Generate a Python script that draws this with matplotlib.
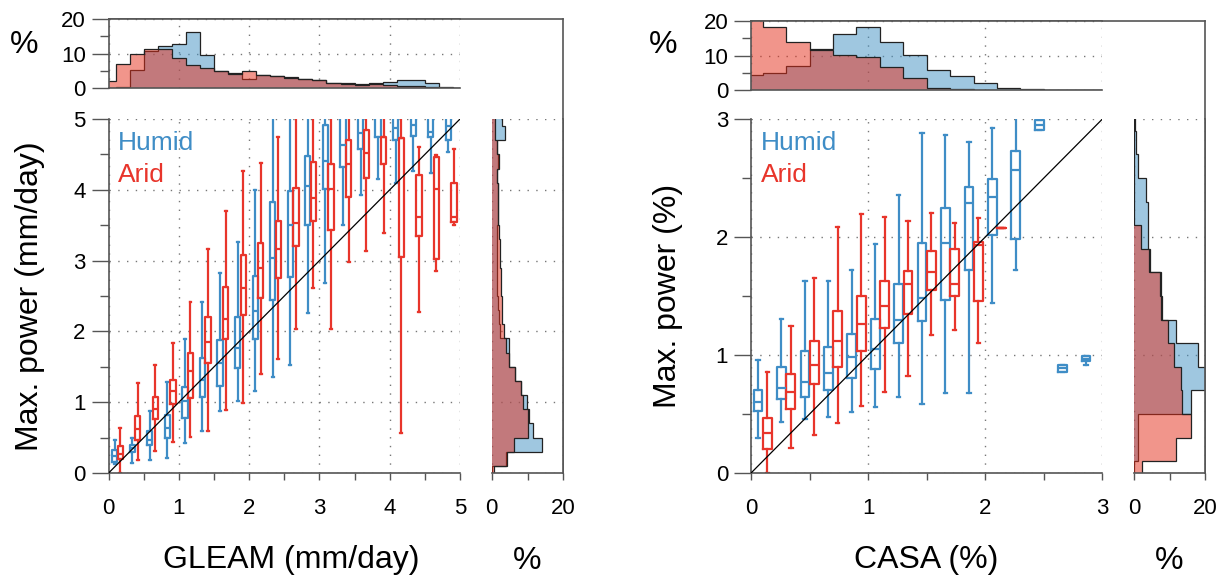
import matplotlib
matplotlib.use("Agg")
import matplotlib.pyplot as plt
import numpy as np

plt.rcParams['font.family'] = ['Liberation Sans', 'DejaVu Sans']

# ---- box statistics: (whislo, q1, med, q3, whishi) per bin ----
gleam_centers = [0.125, 0.375, 0.625, 0.875, 1.125, 1.375, 1.625, 1.875, 2.125, 2.375,
                 2.625, 2.875, 3.125, 3.375, 3.625, 3.875, 4.125, 4.375, 4.625, 4.875]
gleam_humid = [
    (0.12, 0.15, 0.24, 0.33, 0.47), (0.14, 0.30, 0.35, 0.40, 0.49),
    (0.19, 0.39, 0.47, 0.59, 0.87), (0.21, 0.50, 0.64, 0.82, 1.28),
    (0.43, 0.77, 1.01, 1.22, 1.89), (0.59, 1.07, 1.31, 1.63, 2.41),
    (0.87, 1.23, 1.55, 1.88, 2.83), (1.02, 1.49, 1.76, 2.20, 3.26),
    (1.16, 1.89, 2.29, 2.78, 4.00), (1.35, 2.45, 3.04, 3.83, 5.5),
    (1.53, 2.77, 3.50, 3.99, 5.5), (2.26, 3.50, 4.05, 4.48, 5.5),
    (2.68, 4.01, 4.41, 4.92, 5.5), (3.50, 4.32, 4.64, 5.1, 5.5),
    (3.93, 4.57, 4.80, 5.1, 5.5), (4.15, 4.75, 5.05, 5.4, 5.5),
    (4.09, 4.71, 4.87, 5.2, 5.5), (4.27, 4.76, 4.92, 5.2, 5.5),
    (4.24, 4.75, 4.82, 5.2, 5.5), (4.53, 4.71, 4.90, 5.2, 5.5),
]
gleam_arid = [
    (0.00, 0.20, 0.27, 0.38, 0.63), (0.18, 0.47, 0.62, 0.80, 1.27),
    (0.31, 0.76, 0.90, 1.08, 1.53), (0.44, 0.97, 1.16, 1.32, 1.83),
    (0.51, 1.06, 1.44, 1.70, 2.41), (0.59, 1.55, 1.85, 2.20, 3.17),
    (0.89, 1.89, 2.17, 2.63, 3.70), (0.99, 2.23, 2.62, 3.08, 4.26),
    (1.40, 2.47, 2.89, 3.25, 4.38), (1.61, 2.75, 3.16, 3.56, 4.74),
    (2.04, 3.20, 3.53, 4.03, 5.5), (2.61, 3.56, 3.89, 4.39, 5.5),
    (2.03, 3.43, 4.01, 4.36, 5.5), (2.98, 3.90, 4.37, 4.70, 5.5),
    (3.14, 4.16, 4.52, 4.85, 5.5), (3.39, 4.37, 4.75, 4.75, 5.5),
    (0.56, 3.05, 4.73, 4.73, 5.5), (2.28, 3.35, 3.62, 4.21, 4.61),
    (2.86, 3.02, 4.01, 4.46, 4.49), (3.50, 3.55, 3.61, 4.09, 4.57),
]

casa_centers = [0.1, 0.3, 0.5, 0.7, 0.9, 1.1, 1.3, 1.5, 1.7, 1.9, 2.1, 2.3, 2.5, 2.7, 2.9]
casa_humid = [
    (0.30, 0.525, 0.605, 0.704, 0.959), (0.431, 0.624, 0.718, 0.90, 1.306),
    (0.454, 0.647, 0.772, 1.036, 1.624), (0.477, 0.704, 0.846, 1.07, 1.624),
    (0.52, 0.809, 0.985, 1.178, 1.717), (0.559, 0.88, 1.05, 1.306, 1.939),
    (0.644, 1.099, 1.297, 1.604, 2.356), (0.582, 1.291, 1.482, 1.953, 2.882),
    (0.681, 1.462, 1.953, 2.243, 2.862), (0.681, 1.717, 2.285, 2.428, 2.802),
    (1.442, 2.015, 2.342, 2.493, 2.924), (1.723, 1.979, 2.564, 2.731, 3.05),
    (2.904, 2.904, 2.95, 2.995, 2.995), (0.857, 0.857, 0.887, 0.917, 0.917),
    (0.917, 0.945, 0.966, 0.988, 0.988),
]
casa_arid = [
    (0.0, 0.204, 0.34, 0.468, 0.852), (0.213, 0.545, 0.687, 0.835, 1.249),
    (0.326, 0.752, 0.917, 1.121, 1.652), (0.426, 0.90, 1.121, 1.371, 2.081),
    (0.567, 1.031, 1.263, 1.504, 2.192), (0.69, 1.227, 1.419, 1.624, 2.172),
    (0.823, 1.348, 1.598, 1.712, 2.138), (1.17, 1.553, 1.704, 1.882, 2.2),
    (1.215, 1.499, 1.604, 1.902, 2.121), (1.099, 1.456, 1.936, 1.959, 2.163),
    (2.078, 2.078, 2.078, 2.078, 2.078), None, None, None, None,
]

# ---- marginal histograms (% per 0.2 bin, bins centred on 0, 0.2, ...) ----
gleam_top_humid = [0, 0.4, 5.2, 10.8, 12.3, 12.8, 16.1, 9.5, 4.9, 4.4, 2.7, 3.9, 3.5,
                   3.2, 2.7, 2.3, 1.5, 1.35, 1.2, 1.35, 1.8, 2.2, 2.3, 1.35, 0, 0]
gleam_top_arid = [2.1, 7.1, 10.0, 11.2, 11.2, 8.7, 6.8, 5.8, 4.8, 4.1, 5.0, 3.7, 3.4,
                  3.0, 2.6, 2.3, 1.35, 1.2, 1.0, 1.1, 1.0, 0.6, 0.5, 0.4, 0.2, 0]
gleam_side_humid = [0, 4.0, 14.0, 11.4, 10.5, 9.8, 8.2, 6.5, 4.7, 4.8, 2.4, 2.0, 1.8,
                    1.6, 1.5, 1.6, 1.5, 1.4, 1.8, 1.7, 1.8, 1.4, 1.7, 1.5, 3.6, 3.0]
gleam_side_arid = [0.75, 4.2, 6.3, 10.0, 10.0, 8.8, 8.2, 6.5, 4.7, 3.9, 3.3, 3.0, 2.9,
                   2.7, 2.5, 2.4, 2.3, 2.1, 1.8, 1.7, 1.8, 1.6, 2.0, 1.6, 1.0, 1.0]
casa_top_humid = [4.3, 4.8, 7.1, 11.9, 16.2, 18.4, 13.9, 10.1, 5.8, 4.1, 2.1, 0.5, 0.2, 0, 0, 0]
casa_top_arid = [21, 18.4, 14.0, 11.6, 10.1, 9.5, 6.8, 3.4, 0.5, 0.2, 0, 0, 0, 0, 0, 0]
casa_side_humid = [0, 1.0, 1.2, 16.0, 20.0, 18.1, 11.7, 7.9, 7.5, 4.5, 3.9, 4.0, 3.3, 1.0, 0.5, 0.3]
casa_side_arid = [2.2, 11.7, 16.0, 13.6, 13.1, 11.3, 9.7, 7.7, 7.3, 4.3, 1.9, 0, 0, 0, 0, 0]

humid_col = '#3f8dc6'
arid_col = '#e8352b'
humid_fill = '#4191c3'
arid_fill = '#e52d19'
spine_col = '#555555'
grid_kw = dict(color='#777777', linestyle=(0, (1, 5.3)), linewidth=1.0)


def style_ticks(ax):
    ax.tick_params(axis='both', which='both', direction='out', colors=spine_col,
                   labelcolor='black', labelsize=16, width=1.0)
    ax.tick_params(axis='x', which='both', length=5, pad=13)
    ax.tick_params(axis='y', which='major', length=12, pad=4.5)
    ax.tick_params(axis='y', which='minor', length=6.5)
    for s in ax.spines.values():
        s.set_color(spine_col)
        s.set_linewidth(1.2)


def draw_boxes(ax, centers, stats, shift, color):
    bx, pos = [], []
    for c, s in zip(centers, stats):
        if s is None:
            continue
        lo, q1, med, q3, hi = s
        bx.append(dict(whislo=lo, q1=q1, med=med, q3=q3, whishi=hi, fliers=[]))
        pos.append(c + shift)
    kw = dict(color=color, linewidth=1.6)
    ax.bxp(bx, positions=pos, widths=0.075, capwidths=0.028, showfliers=False,
           boxprops=kw, medianprops=kw, whiskerprops=kw, capprops=kw,
           manage_ticks=False)


def draw_hist(ax, edges, humid, arid, orientation):
    for vals, col in ((humid, humid_fill), (arid, arid_fill)):
        ax.stairs(vals, edges, fill=True, color=col, alpha=0.5, linewidth=0,
                  orientation=orientation)
        ax.stairs(vals, edges, color='#222222', linewidth=0.9, orientation=orientation)


def panel(x0, top_y0, top_y1, right_x0, right_x1, vmax, centers, humid, arid,
          top_h, top_a, side_h, side_a, xlabel, ylabel, ylabel_x, xlabel_x, pct_x):
    main_w = 0.2866
    bottom, height = 0.1845, 0.6103
    ax = fig.add_axes([x0, bottom, main_w, height])
    axt = fig.add_axes([x0, top_y0, main_w, top_y1 - top_y0])
    axr = fig.add_axes([right_x0, bottom, right_x1 - right_x0, height])
    frame = fig.add_axes([x0, bottom, right_x1 - x0, top_y1 - bottom], zorder=-5)
    frame.set_facecolor('none')
    frame.set_xticks([])
    frame.set_yticks([])
    for side in ('left', 'bottom'):
        frame.spines[side].set_visible(False)
    for side in ('top', 'right'):
        frame.spines[side].set_color(spine_col)
        frame.spines[side].set_linewidth(1.2)

    ticks = np.arange(0, vmax + 1)
    minor = np.arange(0.5, vmax, 1.0)
    edges = np.linspace(-0.1, vmax + 0.1, len(top_h) + 1)

    # main axes
    ax.set_xlim(0, vmax)
    ax.set_ylim(0, vmax)
    ax.set_xticks(ticks)
    ax.set_xticks(minor, minor=True)
    ax.set_yticks(ticks)
    ax.set_yticks(minor, minor=True)
    for side in ('top', 'right'):
        ax.spines[side].set_visible(False)
    style_ticks(ax)
    ax.set_axisbelow(True)
    ax.grid(True, which='major', **grid_kw)
    draw_boxes(ax, centers, humid, -0.04, humid_col)
    draw_boxes(ax, centers, arid, 0.04, arid_col)
    ax.plot([0, vmax], [0, vmax], color='black', linewidth=0.9, zorder=6)
    ax.text(0.027, 0.932, 'Humid', color=humid_col, fontsize=19, transform=ax.transAxes,
            va='center', ha='left')
    ax.text(0.027, 0.842, 'Arid', color=arid_col, fontsize=19, transform=ax.transAxes,
            va='center', ha='left')

    # top histogram
    axt.set_xlim(0, vmax)
    axt.set_ylim(0, 20)
    axt.set_xticks(ticks)
    axt.set_yticks([0, 10, 20])
    axt.set_yticks([5, 15], minor=True)
    axt.set_xticklabels([])
    for side in ('right',):
        axt.spines[side].set_visible(False)
    style_ticks(axt)
    axt.tick_params(axis='x', length=0)
    axt.set_axisbelow(True)
    axt.grid(True, which='major', **grid_kw)
    draw_hist(axt, edges, top_h, top_a, 'vertical')

    # side histogram
    axr.set_ylim(0, vmax)
    axr.set_xlim(0, 20)
    axr.set_yticks(ticks)
    axr.set_yticklabels([])
    axr.set_xticks([0, 20])
    axr.set_xticks([10], minor=True)
    for side in ('top', 'left'):
        axr.spines[side].set_visible(False)
    style_ticks(axr)
    axr.tick_params(axis='y', which='both', length=0)
    axr.set_axisbelow(True)
    axr.grid(True, which='major', **grid_kw)
    draw_hist(axr, edges, side_h, side_a, 'horizontal')

    fig.text(xlabel_x, 1 - 560 / 580, xlabel, fontsize=23, ha='center', va='center')
    fig.text((right_x0 + right_x1) / 2, 1 - 561 / 580, '%', fontsize=23,
             ha='center', va='center')
    fig.text(ylabel_x, bottom + height / 2, ylabel, fontsize=23, rotation=90,
             ha='center', va='center')
    fig.text(pct_x, 1 - 45 / 580, '%', fontsize=23, ha='center', va='center')


fig = plt.figure(figsize=(12.26, 5.8), dpi=100)

panel(0.0886, 0.8483, 0.9672, 0.4011, 0.4595, 5, gleam_centers, gleam_humid, gleam_arid,
      gleam_top_humid, gleam_top_arid, gleam_side_humid, gleam_side_arid,
      'GLEAM (mm/day)', 'Max. power (mm/day)', 30 / 1226, 291 / 1226, 24 / 1226)
panel(0.6126, 0.8448, 0.9638, 0.9250, 0.9829, 3, casa_centers, casa_humid, casa_arid,
      casa_top_humid, casa_top_arid, casa_side_humid, casa_side_arid,
      'CASA (%)', 'Max. power (%)', 668 / 1226, 926 / 1226, 663 / 1226)

fig.savefig('out.png', dpi=100)
